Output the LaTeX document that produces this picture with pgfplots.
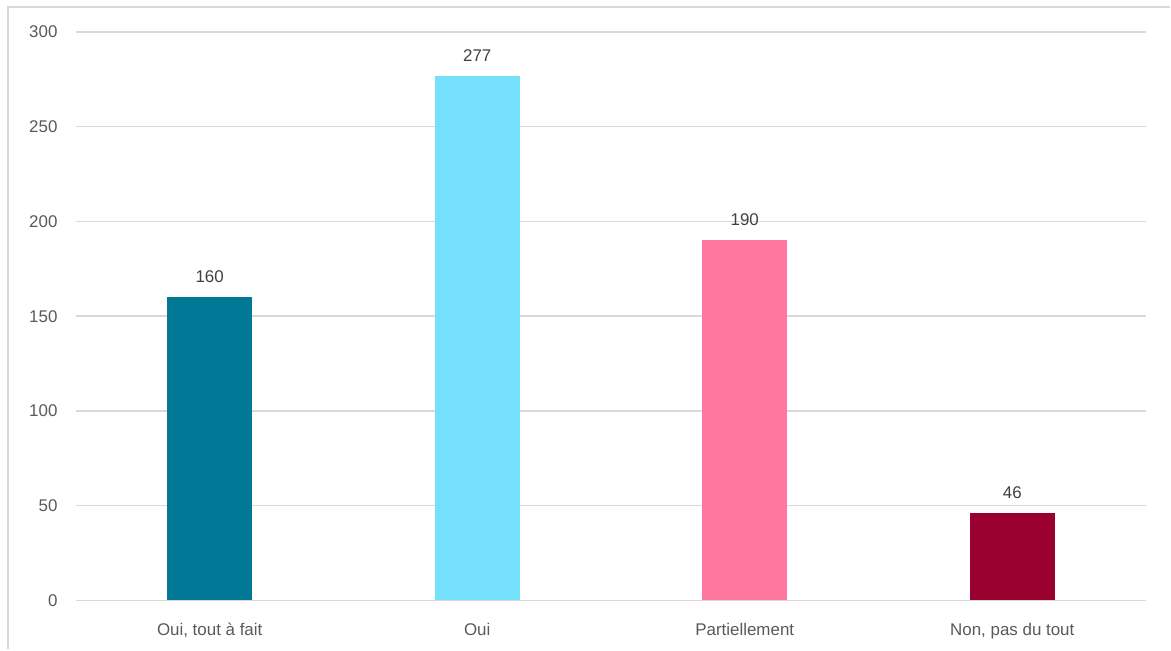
\documentclass[border=0pt]{standalone}
\usepackage{pgfplots}
\pgfplotsset{compat=1.18}
\usepackage{fontspec}
\setmainfont{Liberation Sans}
\definecolor{c1}{HTML}{007896}
\definecolor{c2}{HTML}{74E0FC}
\definecolor{c3}{HTML}{FF779F}
\definecolor{c4}{HTML}{990030}
\definecolor{gridgray}{HTML}{D9D9D9}
\definecolor{txt}{HTML}{595959}
\begin{document}
\begin{tikzpicture}[x=1bp,y=1bp]
  \path (0,0) rectangle (1171,650);
  \draw[gridgray, line width=2bp] (8,0) -- (8,643) -- (1171,643);
  \begin{axis}[
    at={(76bp,49bp)}, anchor=south west,
    scale only axis,
    width=1071bp, height=569bp,
    xmin=-0.5, xmax=3.5,
    ymin=0, ymax=300,
    ytick={0,50,...,300},
    xtick={0,1,2,3},
    xticklabels={{Oui, tout à fait},{Oui},{Partiellement},{Non, pas du tout}},
    /pgf/number format/assume math mode=true,
    axis line style={draw=none},
    major tick length=0pt,
    ymajorgrids=true,
    grid style={gridgray, line width=1.5bp},
    tick label style={font=\fontsize{17}{20}\selectfont, text=txt},
    yticklabel style={xshift=-15bp},
    xticklabel style={yshift=-19bp},
    ybar, bar width=85bp,
    bar shift=0pt,
    nodes near coords,
    every node near coord/.append style={font=\fontsize{17}{20}\selectfont, text=black!75, yshift=11bp},
  ]
    \addplot[fill=c1, draw=none] coordinates {(0,160)};
    \addplot[fill=c2, draw=none] coordinates {(1,277)};
    \addplot[fill=c3, draw=none] coordinates {(2,190)};
    \addplot[fill=c4, draw=none] coordinates {(3,46)};
  \end{axis}
\end{tikzpicture}
\end{document}
